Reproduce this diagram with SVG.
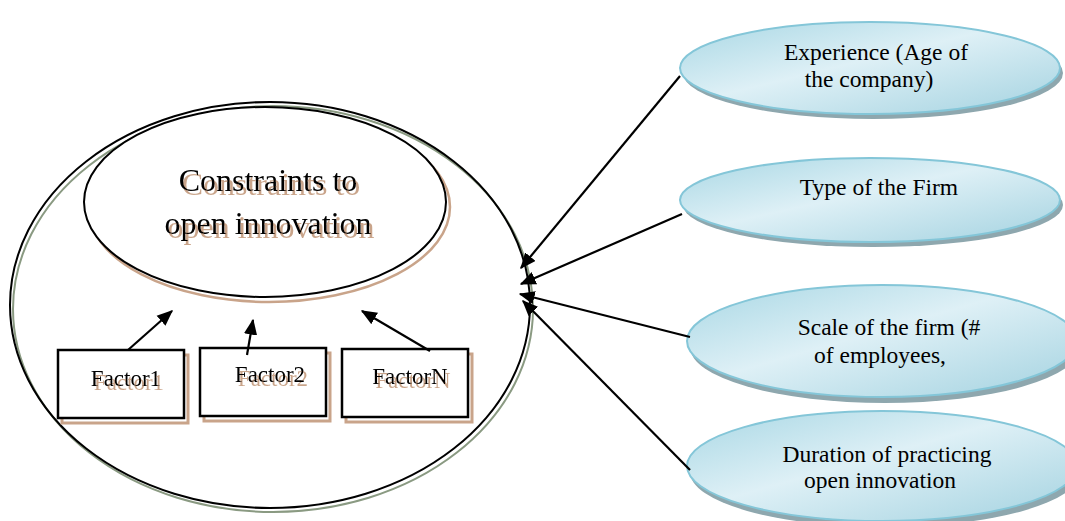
<svg xmlns="http://www.w3.org/2000/svg" width="1065" height="521" viewBox="0 0 1065 521">
<defs>
<style>
.t{font-family:"Liberation Serif","Times New Roman",serif;fill:#000;text-anchor:middle}
.sh{filter:url(#tshadow)}
.bx{fill:#fff;stroke:#000;stroke-width:2.5}
.bxs{fill:none;stroke:#c9a48a;stroke-width:3}
.ce{fill:url(#blue);stroke:#84c6d8;stroke-width:2}
.cs{fill:#8ea7ae}
.ln{stroke:#000;stroke-width:2.2;fill:none;marker-end:url(#ah)}
</style>
<filter id="tshadow" x="-10%" y="-30%" width="120%" height="160%">
<feDropShadow dx="3" dy="4" stdDeviation="0.6" flood-color="#c9a48a" flood-opacity="1"/>
</filter>
<linearGradient id="blue" x1="0" y1="0" x2="1" y2="1">
<stop offset="0" stop-color="#a8d7e4"/>
<stop offset="0.45" stop-color="#def0f6"/>
<stop offset="1" stop-color="#a3d2e0"/>
</linearGradient>
<marker id="ah" viewBox="0 0 12 10" refX="11" refY="5" markerWidth="16" markerHeight="14" markerUnits="userSpaceOnUse" orient="auto">
<path d="M0,0 L12,5 L0,10 z" fill="#000"/>
</marker>
</defs>
<rect width="1065" height="521" fill="#fff"/>

<g id="outer">
<ellipse cx="273" cy="309" rx="260" ry="203" fill="none" stroke="#8a9a82" stroke-width="2"/>
<ellipse cx="270" cy="305" rx="260" ry="203" fill="none" stroke="#000" stroke-width="2"/>
</g>

<g id="inner">
<ellipse cx="269" cy="207" rx="181" ry="95" fill="none" stroke="#c9a48a" stroke-width="2.5"/>
<ellipse cx="265" cy="202" rx="181" ry="95" fill="#fff" stroke="#000" stroke-width="2"/>
<text class="t sh" x="268" y="191" font-size="32">Constraints to</text>
<text class="t sh" x="268" y="234" font-size="32">open innovation</text>
</g>

<g id="factor1">
<rect class="bxs" x="62" y="355" width="126" height="68"/>
<rect class="bx" x="58" y="350" width="126" height="68"/>
<text class="t sh" x="126" y="386" font-size="23">Factor1</text>
</g>
<g id="factor2">
<rect class="bxs" x="204" y="353" width="126" height="68"/>
<rect class="bx" x="200" y="348" width="126" height="68"/>
<text class="t sh" x="270" y="382" font-size="23">Factor2</text>
</g>
<g id="factorN">
<rect class="bxs" x="346" y="354" width="126" height="68"/>
<rect class="bx" x="342" y="349" width="126" height="68"/>
<text class="t sh" x="410" y="384" font-size="23">FactorN</text>
</g>

<g id="experience">
<ellipse class="cs" cx="873" cy="73" rx="190" ry="46"/>
<ellipse class="ce" cx="870" cy="68" rx="190" ry="46"/>
<text class="t" x="876" y="60" font-size="23.5">Experience (Age of</text>
<text class="t" x="869" y="87" font-size="23.5">the company)</text>
</g>
<g id="type">
<ellipse class="cs" cx="873" cy="205" rx="190" ry="42"/>
<ellipse class="ce" cx="870" cy="200" rx="190" ry="42"/>
<text class="t" x="879" y="195" font-size="23.5">Type of the Firm</text>
</g>
<g id="scale">
<ellipse class="cs" cx="885" cy="347" rx="195" ry="56"/>
<ellipse class="ce" cx="882" cy="341" rx="195" ry="56"/>
<text class="t" x="889" y="335" font-size="23.5">Scale of the firm (#</text>
<text class="t" x="880" y="363" font-size="23.5">of employees,</text>
</g>
<g id="duration">
<ellipse class="cs" cx="885" cy="472" rx="195" ry="55"/>
<ellipse class="ce" cx="882" cy="466" rx="195" ry="55"/>
<text class="t" x="887" y="462" font-size="23.5">Duration of practicing</text>
<text class="t" x="880" y="488" font-size="23.5">open innovation</text>
</g>

<g id="connectors">
<line class="ln" x1="128" y1="350" x2="172" y2="311"/>
<line class="ln" x1="247" y1="355" x2="253" y2="320"/>
<line class="ln" x1="430" y1="351" x2="362" y2="311"/>
<line class="ln" x1="680" y1="76" x2="521" y2="268"/>
<line class="ln" x1="682" y1="214" x2="521" y2="284"/>
<line class="ln" x1="690" y1="337" x2="520" y2="294"/>
<line class="ln" x1="690" y1="470" x2="523" y2="301"/>
</g>
</svg>
